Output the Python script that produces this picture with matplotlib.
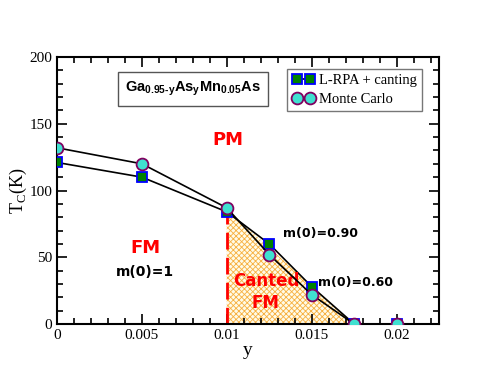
import matplotlib.pyplot as plt
from matplotlib.ticker import MultipleLocator

y_vals = [0.0, 0.005, 0.01, 0.0125, 0.015, 0.0175, 0.02]
tc_lrpa = [121, 110, 84, 60, 28, 0, 0]
tc_mc = [132, 120, 87, 52, 22, 0, 0]
canted_x = [0.01, 0.01, 0.0175]
canted_y = [0, 86, 0]

plt.rcParams['hatch.color'] = '#f7b040'
plt.rcParams['hatch.linewidth'] = 0.6

fig = plt.figure(figsize=(4.94, 3.82), dpi=100)
ax = fig.add_axes([57/494, 1-324/382, (439-57)/494, (324-57)/382])

ax.fill(canted_x, canted_y, facecolor='#fffbe8', hatch='xxxxxx', edgecolor='#f7b040', linewidth=0, zorder=1)
ax.plot([0.01, 0.01], [0, 84], color='red', ls=(0, (6, 3)), lw=2, zorder=2)

ax.plot(y_vals, tc_lrpa, '-s', color='black', lw=1.2, ms=7, mfc='green', mec='blue', mew=1.3,
        label='L-RPA + canting', zorder=3)
ax.plot(y_vals, tc_mc, '-o', color='black', lw=1.2, ms=8.5, mfc='#40e0d0', mec='#800060', mew=1.3,
        label='Monte Carlo', zorder=4)

ax.set_xlim(0, 0.0225)
ax.set_ylim(0, 200)
ax.xaxis.set_major_locator(MultipleLocator(0.005))
ax.xaxis.set_minor_locator(MultipleLocator(0.001))
ax.yaxis.set_major_locator(MultipleLocator(50))
ax.yaxis.set_minor_locator(MultipleLocator(10))
ax.set_xticks([0, 0.005, 0.01, 0.015, 0.02])
ax.set_xticklabels(['0', '0.005', '0.01', '0.015', '0.02'])
ax.tick_params(which='both', direction='in', top=True, right=True, labelsize=11, width=1.2)
ax.tick_params(which='major', length=7)
ax.tick_params(which='minor', length=4)
for lab in ax.get_xticklabels() + ax.get_yticklabels():
    lab.set_family('Liberation Serif')
for s in ax.spines.values():
    s.set_linewidth(1.5)

ax.set_xlabel('y', family='Liberation Serif', fontsize=14, labelpad=0)
ax.set_ylabel(r'T$_\mathregular{C}$(K)', family='Liberation Serif', fontsize=13, labelpad=0)

ax.text(0.01005, 138, 'PM', color='red', fontsize=13, fontweight='bold', ha='center', va='center')
ax.text(0.0052, 57, 'FM', color='red', fontsize=13, fontweight='bold', ha='center', va='center')
ax.text(0.0052, 39, 'm(0)=1', color='black', fontsize=10, fontweight='bold', ha='center', va='center')
ax.text(0.0123, 24, 'Canted\nFM', color='red', fontsize=12, fontweight='bold', ha='center', va='center',
        linespacing=1.3)
ax.text(0.0133, 68, 'm(0)=0.90', color='black', fontsize=9, fontweight='bold', va='center')
ax.text(0.0154, 31, 'm(0)=0.60', color='black', fontsize=9, fontweight='bold', va='center')

plt.rcParams['mathtext.fontset'] = 'custom'
plt.rcParams['mathtext.rm'] = 'Liberation Sans:bold'
ax.text(0.008, 176, 'Ga$_\\mathregular{0.95\u2010y}$As$_\\mathregular{y}$Mn$_\\mathregular{0.05}$As',
        family='Liberation Sans', fontsize=10.5, fontweight='bold', ha='center', va='center',
        bbox=dict(boxstyle='square,pad=0.5', fc='white', ec='#555555', lw=1))

leg = ax.legend(loc='upper right', bbox_to_anchor=(0.955, 0.955), prop={'family': 'Liberation Serif', 'size': 10.5},
                frameon=True, fancybox=False, borderpad=0.35, handlelength=1.5, handletextpad=0.3,
                labelspacing=0.35, borderaxespad=0, numpoints=2)
leg.get_frame().set_edgecolor('#555555')
leg.get_frame().set_linewidth(1)

fig.savefig('out.png', dpi=100)
